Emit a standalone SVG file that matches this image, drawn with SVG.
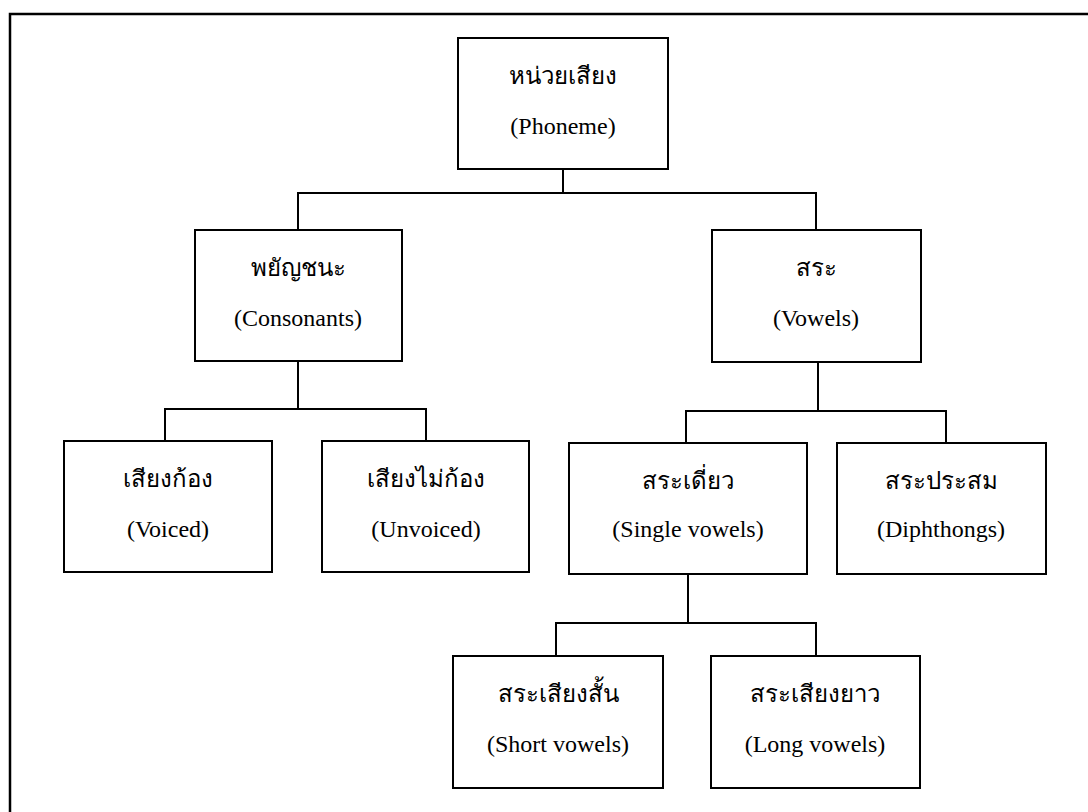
<svg xmlns="http://www.w3.org/2000/svg" width="1088" height="812" viewBox="0 0 1088 812">
  <style>
    .box { fill: #ffffff; stroke: #000000; stroke-width: 2; }
    .wire { fill: none; stroke: #000000; stroke-width: 2; }
    .frame { fill: none; stroke: #000000; stroke-width: 2.5; }
    .th { font-family: "Liberation Serif", "DejaVu Serif", "Noto Sans", serif; font-size: 24px; font-weight: normal; text-anchor: middle; fill: #000000; }
    .en { font-family: "Liberation Serif", serif; font-size: 24px; text-anchor: middle; fill: #000000; }
  </style>
  <rect width="1088" height="812" fill="#ffffff"/>

  <!-- page frame, running off the right and bottom edges -->
  <path class="frame" d="M 10 812 V 14 H 1088"/>

  <!-- tree connectors -->
  <g id="connectors">
    <path class="wire" d="M 563 169 V 193 M 298 230 V 193 H 816 V 230"/>
    <path class="wire" d="M 298 361 V 409 M 165 441 V 409 H 426 V 441"/>
    <path class="wire" d="M 818 362 V 411 M 686 443 V 411 H 946 V 443"/>
    <path class="wire" d="M 688 574 V 623 M 556 656 V 623 H 816 V 656"/>
  </g>

  <g id="phoneme">
    <rect class="box" x="458" y="38" width="210" height="131"/>
    <text class="th" x="563" y="84">หน่วยเสียง</text>
    <text class="en" x="563" y="134">(Phoneme)</text>
  </g>

  <g id="consonants">
    <rect class="box" x="195" y="230" width="207" height="131"/>
    <text class="th" x="298" y="276">พยัญชนะ</text>
    <text class="en" x="298" y="326">(Consonants)</text>
  </g>

  <g id="vowels">
    <rect class="box" x="712" y="230" width="209" height="132"/>
    <text class="th" x="816" y="276">สระ</text>
    <text class="en" x="816" y="326">(Vowels)</text>
  </g>

  <g id="voiced">
    <rect class="box" x="64" y="441" width="208" height="131"/>
    <text class="th" x="168" y="487">เสียงก้อง</text>
    <text class="en" x="168" y="537">(Voiced)</text>
  </g>

  <g id="unvoiced">
    <rect class="box" x="322" y="441" width="207" height="131"/>
    <text class="th" x="426" y="487">เสียงไม่ก้อง</text>
    <text class="en" x="426" y="537">(Unvoiced)</text>
  </g>

  <g id="single-vowels">
    <rect class="box" x="569" y="443" width="238" height="131"/>
    <text class="th" x="688" y="489">สระเดี่ยว</text>
    <text class="en" x="688" y="537">(Single vowels)</text>
  </g>

  <g id="diphthongs">
    <rect class="box" x="837" y="443" width="209" height="131"/>
    <text class="th" x="941" y="489">สระประสม</text>
    <text class="en" x="941" y="537">(Diphthongs)</text>
  </g>

  <g id="short-vowels">
    <rect class="box" x="453" y="656" width="210" height="132"/>
    <text class="th" x="558" y="702">สระเสียงสั้น</text>
    <text class="en" x="558" y="752">(Short vowels)</text>
  </g>

  <g id="long-vowels">
    <rect class="box" x="711" y="656" width="209" height="132"/>
    <text class="th" x="815" y="702">สระเสียงยาว</text>
    <text class="en" x="815" y="752">(Long vowels)</text>
  </g>
</svg>
